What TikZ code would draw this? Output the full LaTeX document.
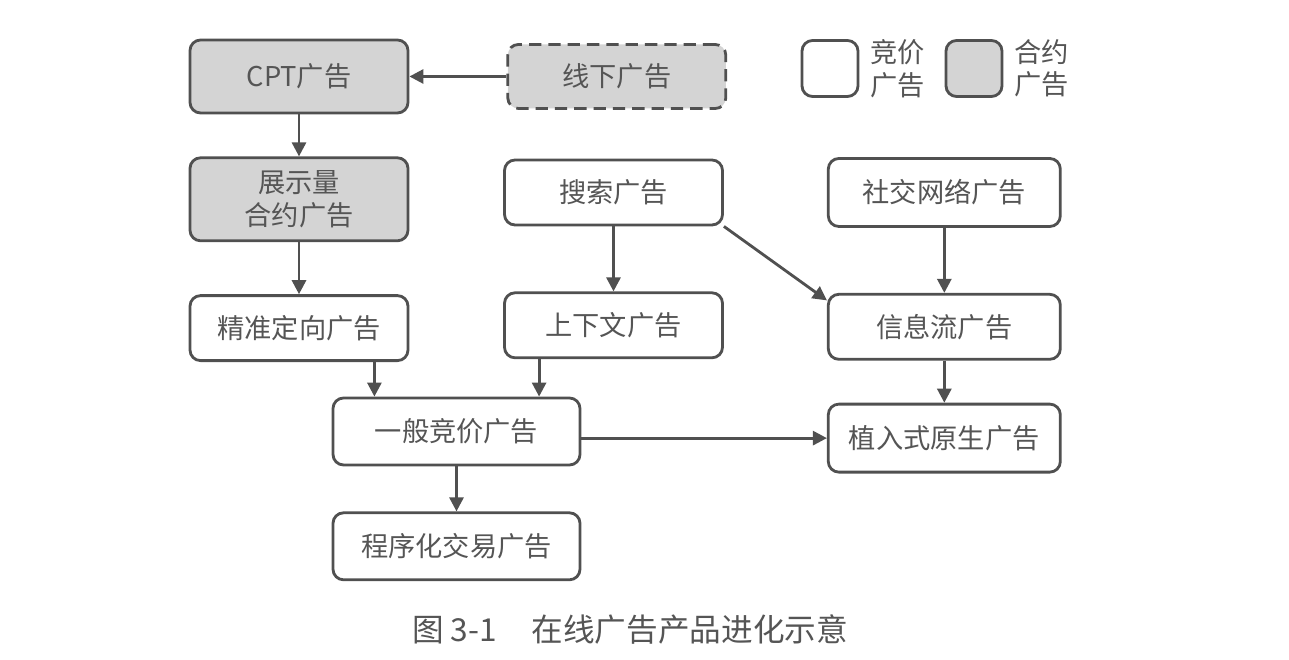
\documentclass[tikz,border=0pt]{standalone}
\usepackage{fontspec}
\setmainfont{Noto Sans CJK SC}
\usetikzlibrary{positioning,calc,arrows.meta}
\definecolor{edgeGray}{RGB}{80,80,80}
\definecolor{textGray}{RGB}{85,85,85}
\definecolor{fillGray}{RGB}{212,212,212}

\begin{document}
\begin{tikzpicture}[
    adbox/.style={draw=edgeGray, line width=1.6pt, rounded corners=6pt, minimum width=4.36cm, minimum height=1.3cm,
                  text=textGray, font=\fontsize{15.5}{19}\selectfont, align=center, fill=white},
    contract/.style={fill=fillGray},
    arr/.style={-{Triangle[length=8pt,width=8pt]}, line width=1.6pt, draw=edgeGray},
]
\useasboundingbox (0,0) rectangle (25.78,13.2);

\node[adbox, contract, minimum height=1.46cm] (cpt) at (5.98,11.67) {CPT广告};
\node[adbox, contract, dash pattern=on 7pt off 4pt, minimum height=1.28cm, right=1.94cm of cpt] (offline) {线下广告};
\node[adbox, contract, minimum height=1.66cm, below=0.84cm of cpt] (impr) {展示量\\合约广告};
\node[adbox, below=1.04cm of impr] (target) {精准定向广告};

\node[adbox] (search) at (12.27,9.35) {搜索广告};
\node[adbox, below=1.3cm of search] (context) {上下文广告};
\node[adbox, minimum width=4.64cm, minimum height=1.36cm, right=2.06cm of search] (social) {社交网络广告};
\node[adbox, minimum width=4.64cm, below=1.3cm of social] (feed) {信息流广告};
\node[adbox, minimum width=4.64cm, minimum height=1.36cm, below=0.84cm of feed] (native) {植入式原生广告};

\node[adbox, minimum width=4.94cm, minimum height=1.34cm] (bid) at (9.13,4.57) {一般竞价广告};
\node[adbox, minimum width=4.94cm, minimum height=1.34cm, below=0.9cm of bid] (rtb) {程序化交易广告};

% legend
\node[draw=edgeGray, line width=1.6pt, rounded corners=6pt, minimum size=1.12cm] (lgbid) at (16.6,11.83) {};
\node[text=textGray, font=\fontsize{15.5}{18.5}\selectfont, align=left, right=0.1cm of lgbid] (lgbidtxt) {竞价\\广告};
\node[draw=edgeGray, fill=fillGray, line width=1.6pt, rounded corners=6pt, minimum size=1.12cm] (lgcon) at (19.48,11.83) {};
\node[text=textGray, font=\fontsize{15.5}{18.5}\selectfont, align=left, right=0.1cm of lgcon] (lgcontxt) {合约\\广告};

% caption
\node[text=textGray, font=\fontsize{18}{20}\selectfont] (caption) at (12.6,0.62) {图 3-1\hspace{1.1em}在线广告产品进化示意};

\draw[arr] (offline) -- (cpt);
\draw[arr] (cpt) -- (impr);
\draw[arr] (impr) -- (target);
\draw[arr] ([xshift=-0.7cm]target.south east) -- ([xshift=-0.7cm]target.south east |- bid.north);
\draw[arr] ([xshift=0.72cm]context.south west) -- ([xshift=0.72cm]context.south west |- bid.north);
\draw[arr] (search) -- (context);
\draw[arr] (search.south east) -- ([yshift=-0.15cm]feed.north west);
\draw[arr] (social) -- (feed);
\draw[arr] (feed) -- (native);
\draw[arr] (bid.east |- native.west) -- (native.west);
\draw[arr] (bid) -- (rtb);
\end{tikzpicture}
\end{document}
